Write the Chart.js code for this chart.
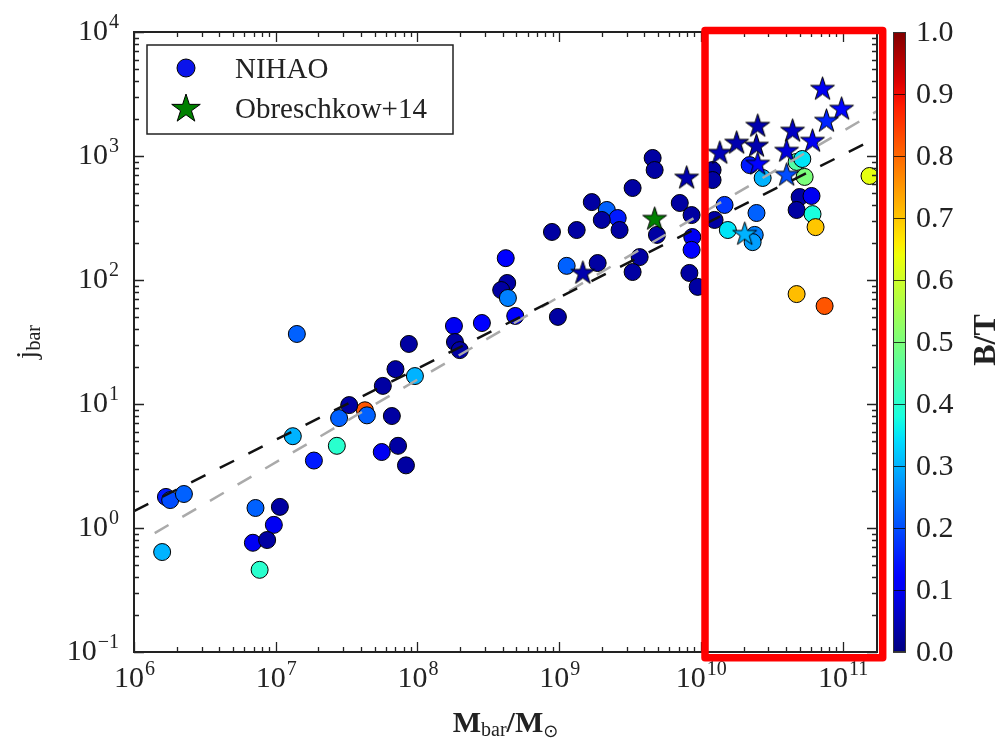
<!DOCTYPE html>
<html>
<head>
<meta charset="utf-8">
<title>j_bar vs M_bar</title>
<script src="https://cdn.jsdelivr.net/npm/chart.js@4.4.1/dist/chart.umd.min.js"></script>
<style>
  html, body { margin: 0; padding: 0; background: #fff; }
  #wrap { width: 1002px; height: 743px; }
</style>
</head>
<body>
<div id="wrap"><canvas id="chart" width="1002" height="743"></canvas></div>
<script>
// NIHAO galaxies: baryonic mass [Msun], specific angular momentum, bulge-to-total
const nihaoMass = [4.26e7, 1.58e6, 1.68e6, 1.8e6, 2.25e6, 7.2e6, 1.07e7, 9.7e6, 6.9e6, 8.7e6, 7.7e6,
  1.41e7, 1.32e7, 1.86e7, 2.7e7, 2.8e7, 3.3e7, 4.4e7, 5.6e7, 6.6e7,
  7.0e7, 7.3e7, 8.3e7, 5.7e7, 8.7e7, 9.6e7, 1.81e8, 1.84e8, 1.99e8, 2.85e8,
  4.2e8, 4.3e8, 3.9e8, 4.35e8, 4.9e8, 9.8e8, 8.9e8, 1.33e9, 1.13e9, 1.87e9,
  1.70e9, 2.17e9, 2.59e9, 2.0e9, 2.67e9, 3.3e9, 4.57e9, 4.72e9, 3.7e9, 3.3e9,
  4.9e9, 7.1e9, 8.6e9, 8.7e9, 8.6e9, 8.3e9, 9.5e9, 1.21e10, 1.21e10, 1.25e10,
  1.47e10, 1.55e10, 2.21e10, 2.4e10, 2.32e10, 2.47e10, 2.73e10, 4.74e10, 5.2e10, 5.4e10,
  4.98e10, 6.04e10, 4.74e10, 6.14e10, 6.45e10, 1.55e11, 4.74e10, 7.47e10];
const nihaoJ = [8.9, 0.64, 1.78, 1.68, 1.88, 1.45, 1.48, 1.06, 0.76, 0.80, 0.46,
  36.7, 5.5, 3.5, 4.6, 7.7, 9.8, 8.1, 4.1, 8.0,
  19.1, 4.6, 3.2, 14.0, 30.5, 16.8, 42.6, 31.6, 27.2, 45,
  150, 94.6, 83, 71.6, 51.3, 50.4, 244, 253, 130, 137,
  425, 367, 316, 305, 253, 552, 964, 771, 153, 116,
  231, 418, 334, 222, 175, 114, 88, 771, 640, 305,
  403, 253, 845, 231, 202, 347, 665, 896, 946, 678,
  467, 476, 367, 340, 267, 690, 77, 61.7];
const nihaoBT = [0.82, 0.30, 0.15, 0.20, 0.22, 0.22, 0.03, 0.10, 0.10, 0.03, 0.40,
  0.22, 0.30, 0.15, 0.40, 0.22, 0.03, 0.22, 0.10, 0.03,
  0.03, 0.03, 0.03, 0.03, 0.03, 0.30, 0.10, 0.03, 0.03, 0.12,
  0.12, 0.03, 0.03, 0.25, 0.12, 0.03, 0.03, 0.03, 0.22, 0.03,
  0.03, 0.22, 0.15, 0.03, 0.03, 0.03, 0.03, 0.03, 0.03, 0.03,
  0.03, 0.03, 0.03, 0.10, 0.12, 0.03, 0.03, 0.03, 0.03, 0.03,
  0.18, 0.35, 0.15, 0.25, 0.28, 0.22, 0.30, 0.45, 0.35, 0.50,
  0.03, 0.10, 0.03, 0.38, 0.70, 0.63, 0.71, 0.82];

// Obreschkow+14 galaxies, coloured by B/T
const obMass = [1.47e9, 7.94e9, 1.36e10, 1.79e10, 2.47e10, 2.52e10, 4.44e10, 4.03e10,
  6.14e10, 7.22e10, 9.84e10, 7.7e10, 2.52e10, 4.03e10, 2.04e10];
const obJ = [116, 678, 1076, 1297, 1227, 1778, 1622, 1117,
  1345, 3532, 2439, 1950, 879, 716, 239];
const obBT = [0.04, 0.04, 0.05, 0.04, 0.04, 0.04, 0.06, 0.08,
  0.10, 0.10, 0.13, 0.16, 0.12, 0.20, 0.30];

// single green star
const greenMass = [4.72e9];
const greenJ = [316];

// fitted power laws, end points
const fitNihaoX = [1e6, 1.75e11];
const fitNihaoY = [1.37, 1406];
const fitObX = [1.4e6, 1.75e11];
const fitObY = [0.91, 2300];

const xTickExp = [6, 7, 8, 9, 10, 11];
const yTickExp = [-1, 0, 1, 2, 3, 4];
const cbTicks = [0.0, 0.1, 0.2, 0.3, 0.4, 0.5, 0.6, 0.7, 0.8, 0.9, 1.0];

// highlighted mass range (red frame)
const boxX = [1.07e10, 1.92e11];
const boxY = [0.09, 1.03e4];

const SERIF = '"Liberation Serif", "DejaVu Serif", serif';

// matplotlib jet colormap
const JET_R = [[0, 0], [0.35, 0], [0.66, 1], [0.89, 1], [1, 0.5]];
const JET_G = [[0, 0], [0.125, 0], [0.375, 1], [0.64, 1], [0.91, 0], [1, 0]];
const JET_B = [[0, 0.5], [0.11, 1], [0.34, 1], [0.65, 0], [1, 0]];
function seg(pts, v) {
  for (let i = 1; i < pts.length; i++) {
    if (v <= pts[i][0]) {
      const [x0, y0] = pts[i - 1], [x1, y1] = pts[i];
      return y0 + (y1 - y0) * (v - x0) / (x1 - x0);
    }
  }
  return pts[pts.length - 1][1];
}
function jet(v) {
  v = Math.max(0, Math.min(1, v));
  return 'rgb(' + Math.round(255 * seg(JET_R, v)) + ',' + Math.round(255 * seg(JET_G, v)) + ',' + Math.round(255 * seg(JET_B, v)) + ')';
}

// five-pointed star marker as a canvas (pointStyle)
const starCache = {};
function starCanvas(fill, R) {
  const key = fill + R;
  if (starCache[key]) return starCache[key];
  const c = document.createElement('canvas');
  const s = Math.ceil(2 * R + 4);
  c.width = c.height = s;
  const g = c.getContext('2d');
  traceStar(g, s / 2, s / 2 + R * 0.1, R);
  g.fillStyle = fill;
  g.fill();
  g.lineWidth = 1;
  g.strokeStyle = '#000';
  g.stroke();
  starCache[key] = c;
  return c;
}
function traceStar(g, cx, cy, R) {
  g.beginPath();
  for (let i = 0; i < 10; i++) {
    const r = i % 2 ? R * 0.382 : R;
    const a = -Math.PI / 2 + i * Math.PI / 5;
    const px = cx + r * Math.cos(a), py = cy + r * Math.sin(a);
    if (i === 0) g.moveTo(px, py); else g.lineTo(px, py);
  }
  g.closePath();
}

function drawPow(ctx, exp, x, y, align) {
  const base = '10';
  const sup = exp < 0 ? '\u2212' + Math.abs(exp) : String(exp);
  ctx.font = '30px ' + SERIF;
  const w1 = ctx.measureText(base).width;
  ctx.font = '20px ' + SERIF;
  const w2 = ctx.measureText(sup).width;
  let x0 = align === 'right' ? x - w1 - w2 : x - (w1 + w2) / 2;
  ctx.textAlign = 'left';
  ctx.textBaseline = 'alphabetic';
  ctx.font = '30px ' + SERIF;
  ctx.fillText(base, x0, y);
  ctx.font = '20px ' + SERIF;
  ctx.fillText(sup, x0 + w1 + 1, y - 12);
}

// draws a run of text pieces [{t, font, dy}] centered at (x, y)
function drawPieces(ctx, pieces, x, y) {
  let total = 0;
  pieces.forEach(p => { ctx.font = p.font; p.w = ctx.measureText(p.t).width; total += p.w; });
  let cx = x - total / 2;
  ctx.textAlign = 'left';
  ctx.textBaseline = 'alphabetic';
  pieces.forEach(p => {
    ctx.font = p.font;
    ctx.fillText(p.t, cx, y + (p.dy || 0));
    cx += p.w;
  });
}

const axesPlugin = {
  id: 'axesDecor',
  afterDraw(chart) {
    const ctx = chart.ctx;
    const a = chart.chartArea;
    const xs = chart.scales.x, ys = chart.scales.y;
    ctx.save();
    ctx.fillStyle = '#222';
    ctx.strokeStyle = '#222';

    // minor + major ticks on all four sides, pointing inwards
    ctx.lineWidth = 1.3;
    ctx.beginPath();
    for (let e = 5; e <= 11; e++) {
      for (let m = 1; m <= 9; m++) {
        const v = m * Math.pow(10, e);
        if (v < xs.min * 0.999 || v > xs.max) continue;
        const px = Math.round(xs.getPixelForValue(v)) + 0.5;
        const len = m === 1 ? 10 : 5;
        ctx.moveTo(px, a.bottom); ctx.lineTo(px, a.bottom - len);
        ctx.moveTo(px, a.top); ctx.lineTo(px, a.top + len);
      }
    }
    for (let e = -1; e <= 4; e++) {
      for (let m = 1; m <= 9; m++) {
        const v = m * Math.pow(10, e);
        if (v < ys.min * 0.999 || v > ys.max * 1.001) continue;
        const py = Math.round(ys.getPixelForValue(v)) + 0.5;
        const len = m === 1 ? 10 : 5;
        ctx.moveTo(a.left, py); ctx.lineTo(a.left + len, py);
        ctx.moveTo(a.right, py); ctx.lineTo(a.right - len, py);
      }
    }
    ctx.stroke();

    // frame
    ctx.lineWidth = 2;
    ctx.strokeRect(a.left, a.top, a.right - a.left, a.bottom - a.top);

    // tick labels
    xTickExp.forEach(e => drawPow(ctx, e, xs.getPixelForValue(Math.pow(10, e)), a.bottom + 35, 'center'));
    yTickExp.forEach(e => drawPow(ctx, e, a.left - 16, ys.getPixelForValue(Math.pow(10, e)) + 8, 'right'));

    // axis titles
    drawPieces(ctx, [
      { t: 'M', font: 'bold 30px ' + SERIF },
      { t: 'bar', font: '20px ' + SERIF, dy: 4 },
      { t: '/M', font: 'bold 30px ' + SERIF },
      { t: '\u2299', font: '18px "DejaVu Sans", sans-serif', dy: 5 }
    ], (a.left + a.right) / 2, a.bottom + 80);
    ctx.save();
    ctx.translate(36, (a.top + a.bottom) / 2);
    ctx.rotate(-Math.PI / 2);
    drawPieces(ctx, [
      { t: 'j', font: '30px ' + SERIF },
      { t: 'bar', font: '20px ' + SERIF, dy: 4 }
    ], 0, 0);
    ctx.restore();

    // colour bar
    const cbL = a.right + 16, cbW = 13;
    const grad = ctx.createLinearGradient(0, a.bottom, 0, a.top);
    for (let i = 0; i <= 50; i++) grad.addColorStop(i / 50, jet(i / 50));
    ctx.fillStyle = grad;
    ctx.fillRect(cbL, a.top, cbW, a.bottom - a.top);
    ctx.lineWidth = 1;
    ctx.strokeStyle = 'rgba(0,0,0,0.75)';
    ctx.beginPath();
    cbTicks.forEach(t => {
      const py = Math.round(a.bottom - t * (a.bottom - a.top)) + 0.5;
      ctx.moveTo(cbL, py); ctx.lineTo(cbL + cbW, py);
    });
    ctx.stroke();
    ctx.strokeStyle = '#333';
    ctx.strokeRect(cbL + 0.5, a.top + 0.5, cbW - 1, a.bottom - a.top - 1);
    ctx.fillStyle = '#222';
    ctx.font = '30px ' + SERIF;
    ctx.textAlign = 'left';
    ctx.textBaseline = 'alphabetic';
    cbTicks.forEach(t => {
      const py = a.bottom - t * (a.bottom - a.top);
      ctx.fillText(t.toFixed(1), cbL + 23, py + 9);
    });
    ctx.save();
    ctx.translate(995, (a.top + a.bottom) / 2 - 2);
    ctx.rotate(-Math.PI / 2);
    ctx.font = 'bold 32px ' + SERIF;
    ctx.textAlign = 'center';
    ctx.fillText('B/T', 0, 0);
    ctx.restore();

    // legend
    const lx = a.left + 13, ly = a.top + 13, lw = 306, lh = 89;
    ctx.fillStyle = '#fff';
    ctx.fillRect(lx, ly, lw, lh);
    ctx.lineWidth = 1.5;
    ctx.strokeStyle = '#222';
    ctx.strokeRect(lx, ly, lw, lh);
    ctx.beginPath();
    ctx.arc(lx + 39, ly + 23, 9, 0, Math.PI * 2);
    ctx.fillStyle = 'rgb(10,20,235)';
    ctx.fill();
    ctx.lineWidth = 1;
    ctx.strokeStyle = '#000';
    ctx.stroke();
    traceStar(ctx, lx + 39, ly + 64, 15);
    ctx.fillStyle = 'rgb(0,128,0)';
    ctx.fill();
    ctx.stroke();
    ctx.fillStyle = '#222';
    ctx.font = '29px ' + SERIF;
    ctx.fillText('NIHAO', lx + 88, ly + 33);
    ctx.fillText('Obreschkow+14', lx + 88, ly + 73);

    // red frame around the high-mass end
    const rx0 = xs.getPixelForValue(boxX[0]), rx1 = xs.getPixelForValue(boxX[1]);
    const ry0 = ys.getPixelForValue(boxY[1]), ry1 = ys.getPixelForValue(boxY[0]);
    ctx.strokeStyle = '#ff0000';
    ctx.lineWidth = 7.5;
    ctx.lineJoin = 'round';
    ctx.strokeRect(rx0, ry0, rx1 - rx0, ry1 - ry0);
    ctx.restore();
  }
};

const nihaoPts = nihaoMass.map((m, i) => ({ x: m, y: nihaoJ[i] }));
const obPts = obMass.map((m, i) => ({ x: m, y: obJ[i] }));
const greenPts = greenMass.map((m, i) => ({ x: m, y: greenJ[i] }));

new Chart(document.getElementById('chart'), {
  type: 'scatter',
  data: {
    datasets: [
      {
        type: 'line',
        label: 'fit NIHAO',
        data: fitNihaoX.map((x, i) => ({ x: x, y: fitNihaoY[i] })),
        borderColor: '#111',
        borderWidth: 2.5,
        borderDash: [16, 16],
        pointRadius: 0,
        fill: false,
        order: 0
      },
      {
        type: 'line',
        label: 'fit Obreschkow+14',
        data: fitObX.map((x, i) => ({ x: x, y: fitObY[i] })),
        borderColor: '#aaaaaa',
        borderWidth: 2.5,
        borderDash: [16, 16],
        pointRadius: 0,
        fill: false,
        order: 0
      },
      {
        label: 'NIHAO',
        data: nihaoPts,
        pointRadius: 8.5,
        pointBackgroundColor: nihaoBT.map(jet),
        pointBorderColor: '#000',
        pointBorderWidth: 1,
        order: 2
      },
      {
        label: 'Obreschkow+14',
        data: obPts,
        pointRadius: 12,
        pointStyle: obBT.map(v => starCanvas(jet(v), 12.5)),
        order: 1
      },
      {
        label: 'green',
        data: greenPts,
        pointRadius: 12,
        pointStyle: greenPts.map(() => starCanvas('rgb(0,128,0)', 12.5)),
        order: 1
      }
    ]
  },
  options: {
    responsive: false,
    animation: false,
    events: [],
    layout: { padding: { left: 134, right: 125, top: 32, bottom: 91 } },
    plugins: { legend: { display: false }, tooltip: { enabled: false } },
    scales: {
      x: { type: 'logarithmic', min: 1e6, max: 1.75e11, display: false },
      y: { type: 'logarithmic', min: 0.1, max: 1e4, display: false }
    }
  },
  plugins: [axesPlugin]
});
</script>
</body>
</html>
